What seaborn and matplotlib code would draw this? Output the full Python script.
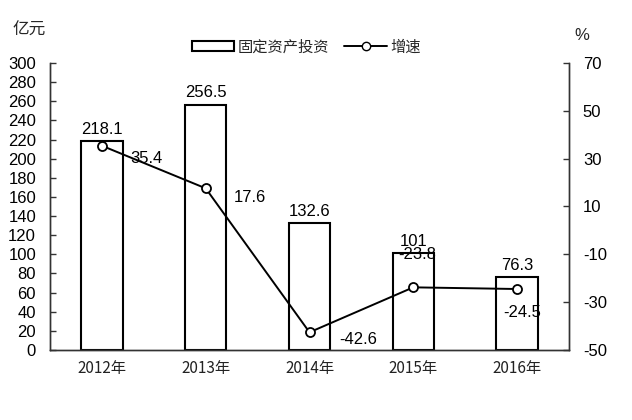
import matplotlib
matplotlib.use("Agg")
import matplotlib.pyplot as plt
import seaborn as sns
import pandas as pd
from matplotlib.patches import Patch
from matplotlib.lines import Line2D

years = ["2012年", "2013年", "2014年", "2015年", "2016年"]
investment = [218.1, 256.5, 132.6, 101, 76.3]
growth = [35.4, 17.6, -42.6, -23.8, -24.5]
left_ticks = list(range(0, 301, 20))
right_ticks = list(range(-50, 71, 20))

sns.set_theme(style="white")
plt.rcParams['font.family'] = ['Liberation Sans', 'Noto Sans CJK SC', 'DejaVu Sans']
plt.rcParams['axes.unicode_minus'] = False

df = pd.DataFrame({"year": years, "inv": investment, "g": growth})

fig = plt.figure(figsize=(6.32, 4.2), dpi=100)
ax = fig.add_axes([50/632, 70/420, 519/632, 287/420])

sns.barplot(data=df, x="year", y="inv", ax=ax, color="white", edgecolor="black",
            linewidth=1.5, width=0.4, saturation=1)
ax.set_ylim(0, 300)
ax.set_yticks(left_ticks)
ax.set_xlim(-0.5, 4.5)

ax2 = ax.twinx()
sns.pointplot(data=df, x="year", y="g", ax=ax2, color="black", markers="o",
              linestyles="-", markersize=6.5, linewidth=1.4,
              markerfacecolor="white", markeredgecolor="black", markeredgewidth=1.3)
ax2.set_ylim(-50, 70)
ax2.set_yticks(right_ticks)
ax2.set_xlim(-0.5, 4.5)

# bar labels
for c in ax.containers:
    ax.bar_label(c, labels=[f"{v:g}" for v in investment], padding=3, fontsize=12,
                 color="black")

# line labels
offsets = [(32, -9), (32, -6.5), (35, -5), (3, 24), (4, -17)]
for i, (v, off) in enumerate(zip(growth, offsets)):
    ax2.annotate(f"{v:g}", (i, v), xytext=off, textcoords="offset points",
                 ha="center", va="center", fontsize=12, color="black")

for a in (ax, ax2):
    a.set_xlabel("")
    a.set_ylabel("")
    a.spines["top"].set_visible(False)
    for s in ("left", "right", "bottom"):
        a.spines[s].set_color("#333333")
        a.spines[s].set_linewidth(1.0)
    a.grid(False)

ax.spines["right"].set_visible(True)
ax.tick_params(axis="y", direction="in", length=4, width=1, color="#333333",
               labelsize=12, pad=10, labelcolor="black")
ax2.tick_params(axis="y", direction="in", length=4, width=1, color="#333333",
                labelsize=12, pad=10, labelcolor="black")
ax.set_xticks(range(len(years)))
ax.set_xticklabels(years, fontsize=11, family=['Noto Sans CJK SC', 'DejaVu Sans'])
ax.tick_params(axis="x", which="major", length=0, pad=7, labelcolor="#222222")
ax.set_xticks([0.5, 1.5, 2.5, 3.5], minor=True)
ax.tick_params(axis="x", which="minor", direction="in", length=5, width=1, color="#333333")

fig.text(12/632, 1 - 30/420, "亿元", fontsize=12, va="center", ha="left",
         family=['Noto Sans CJK SC', 'DejaVu Sans'])
fig.text(582/632, 1 - 35/420, "%", fontsize=12, va="center", ha="center")

handles = [Patch(facecolor="white", edgecolor="black", linewidth=1.5),
           Line2D([0], [0], color="black", lw=1.4, marker="o", markersize=6,
                  markerfacecolor="white", markeredgecolor="black")]
fig.legend(handles, ["固定资产投资", "增速"], loc="center", bbox_to_anchor=(306/632, 1 - 47/420),
           ncol=2, frameon=False, handlelength=2.8, handleheight=0.6, handletextpad=0.2,
           columnspacing=1.0, prop={'family': ['Noto Sans CJK SC', 'DejaVu Sans'], 'size': 11})

fig.savefig("out.png", dpi=100)
